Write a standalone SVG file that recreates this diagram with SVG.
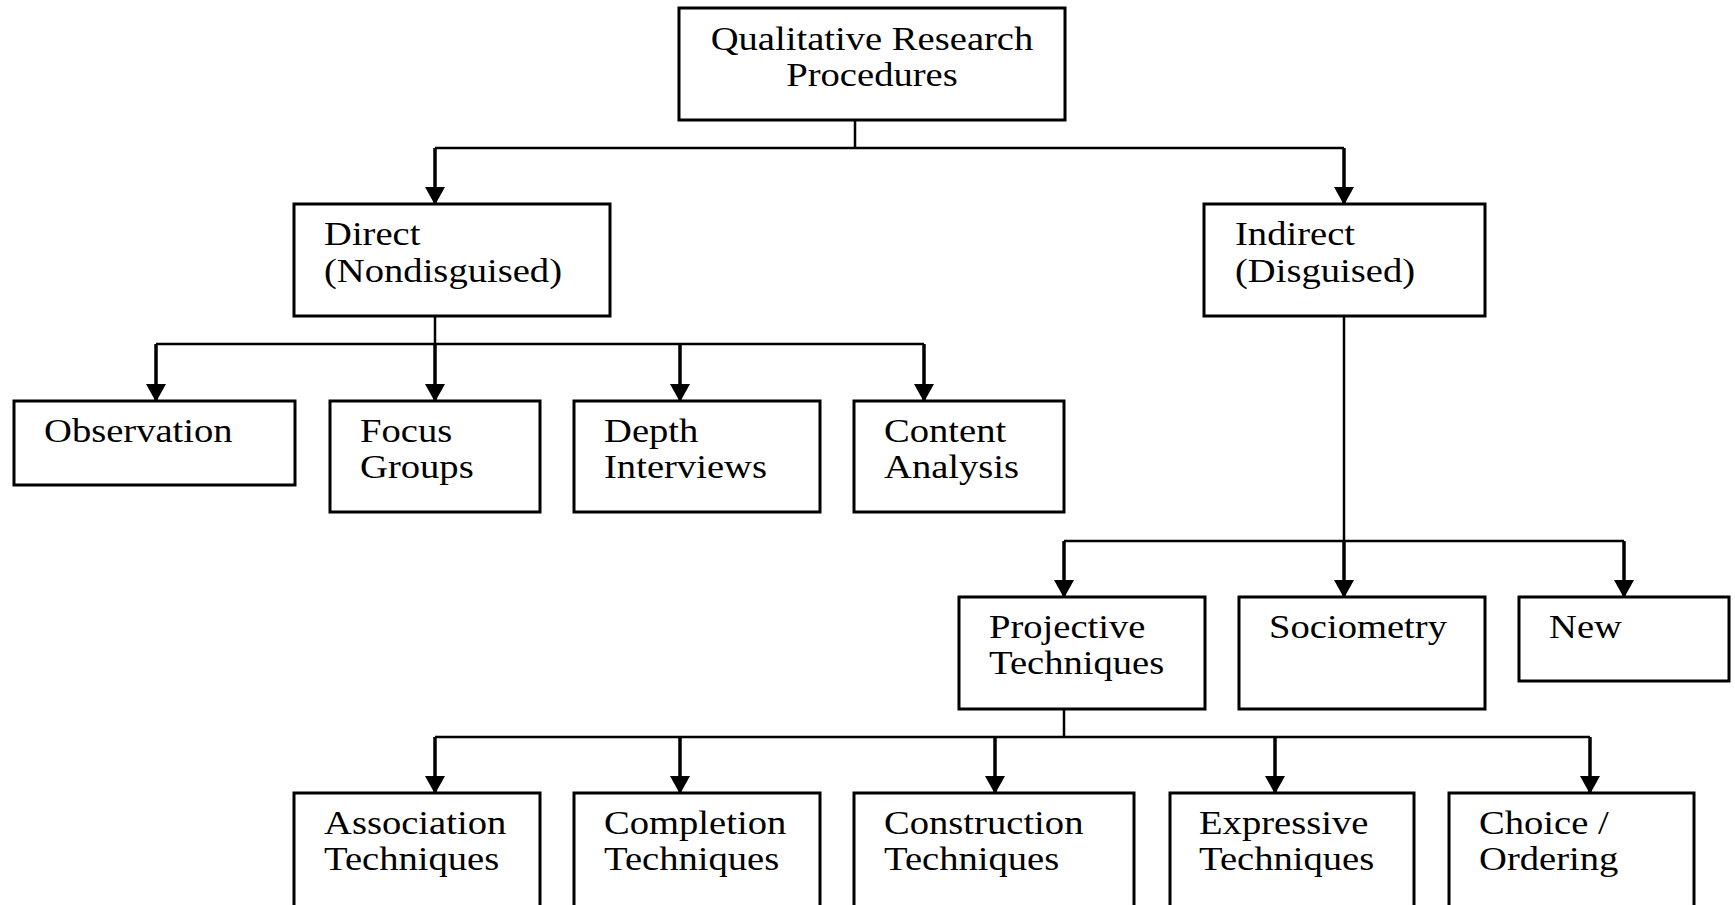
<svg xmlns="http://www.w3.org/2000/svg" width="1735" height="905" viewBox="0 0 1735 905">
  <style>
    .box { fill: #ffffff; stroke: #000000; stroke-width: 3; }
    .lbl { font-family: "Liberation Serif", serif; font-size: 33px; fill: #000000; }
    .mid { text-anchor: middle; }
    .bus { fill: none; stroke: #000000; stroke-width: 2.5; }
    .drop { fill: none; stroke: #000000; stroke-width: 3.5; marker-end: url(#head); }
  </style>
  <defs>
    <marker id="head" viewBox="0 0 18 20" refX="17" refY="10" markerWidth="18" markerHeight="20" markerUnits="userSpaceOnUse" orient="auto">
      <path d="M0,0 L18,10 L0,20 z" fill="#000000"/>
    </marker>
  </defs>
  <rect width="1735" height="905" fill="#ffffff"/>

  <!-- connectors -->
  <g id="connectors">
    <!-- root to level 1 -->
    <path class="bus" d="M855,120 V148 M435,148 H1344"/>
    <path class="drop" d="M435,148 V204"/>
    <path class="drop" d="M1344,148 V204"/>
    <!-- direct branch -->
    <path class="bus" d="M435,316 V344 M156,344 H924"/>
    <path class="drop" d="M156,344 V401"/>
    <path class="drop" d="M435,344 V401"/>
    <path class="drop" d="M680,344 V401"/>
    <path class="drop" d="M924,344 V401"/>
    <!-- indirect branch -->
    <path class="bus" d="M1344,316 V541 M1064,541 H1624"/>
    <path class="drop" d="M1064,541 V597"/>
    <path class="drop" d="M1344,541 V597"/>
    <path class="drop" d="M1624,541 V597"/>
    <!-- projective techniques branch -->
    <path class="bus" d="M1064,709 V737 M435,737 H1590"/>
    <path class="drop" d="M435,737 V793"/>
    <path class="drop" d="M680,737 V793"/>
    <path class="drop" d="M995,737 V793"/>
    <path class="drop" d="M1275,737 V793"/>
    <path class="drop" d="M1590,737 V793"/>
  </g>

  <!-- labels are set in a slightly widened serif (x scaled by 1.17) -->
  <g id="root">
    <rect class="box" x="679" y="8" width="386" height="112"/>
    <text class="lbl mid" transform="translate(872 50) scale(1.17 1)">Qualitative Research</text>
    <text class="lbl mid" transform="translate(872 86) scale(1.17 1)">Procedures</text>
  </g>

  <g id="direct">
    <rect class="box" x="294" y="204" width="316" height="112"/>
    <text class="lbl" transform="translate(324 245) scale(1.17 1)">Direct</text>
    <text class="lbl" transform="translate(324 282) scale(1.17 1)">(Nondisguised)</text>
  </g>

  <g id="indirect">
    <rect class="box" x="1204" y="204" width="281" height="112"/>
    <text class="lbl" transform="translate(1235 245) scale(1.17 1)">Indirect</text>
    <text class="lbl" transform="translate(1235 282) scale(1.17 1)">(Disguised)</text>
  </g>

  <g id="observation">
    <rect class="box" x="14" y="401" width="281" height="84"/>
    <text class="lbl" transform="translate(44 442) scale(1.17 1)">Observation</text>
  </g>

  <g id="focus-groups">
    <rect class="box" x="330" y="401" width="210" height="111"/>
    <text class="lbl" transform="translate(360 442) scale(1.17 1)">Focus</text>
    <text class="lbl" transform="translate(360 478) scale(1.17 1)">Groups</text>
  </g>

  <g id="depth-interviews">
    <rect class="box" x="574" y="401" width="246" height="111"/>
    <text class="lbl" transform="translate(604 442) scale(1.17 1)">Depth</text>
    <text class="lbl" transform="translate(604 478) scale(1.17 1)">Interviews</text>
  </g>

  <g id="content-analysis">
    <rect class="box" x="854" y="401" width="210" height="111"/>
    <text class="lbl" transform="translate(884 442) scale(1.17 1)">Content</text>
    <text class="lbl" transform="translate(884 478) scale(1.17 1)">Analysis</text>
  </g>

  <g id="projective">
    <rect class="box" x="959" y="597" width="246" height="112"/>
    <text class="lbl" transform="translate(989 638) scale(1.17 1)">Projective</text>
    <text class="lbl" transform="translate(989 674) scale(1.17 1)">Techniques</text>
  </g>

  <g id="sociometry">
    <rect class="box" x="1239" y="597" width="246" height="112"/>
    <text class="lbl" transform="translate(1269 638) scale(1.17 1)">Sociometry</text>
  </g>

  <g id="new">
    <rect class="box" x="1519" y="597" width="210" height="84"/>
    <text class="lbl" transform="translate(1549 638) scale(1.17 1)">New</text>
  </g>

  <g id="association">
    <rect class="box" x="294" y="793" width="246" height="130"/>
    <text class="lbl" transform="translate(324 834) scale(1.17 1)">Association</text>
    <text class="lbl" transform="translate(324 870) scale(1.17 1)">Techniques</text>
  </g>

  <g id="completion">
    <rect class="box" x="574" y="793" width="246" height="130"/>
    <text class="lbl" transform="translate(604 834) scale(1.17 1)">Completion</text>
    <text class="lbl" transform="translate(604 870) scale(1.17 1)">Techniques</text>
  </g>

  <g id="construction">
    <rect class="box" x="854" y="793" width="280" height="130"/>
    <text class="lbl" transform="translate(884 834) scale(1.17 1)">Construction</text>
    <text class="lbl" transform="translate(884 870) scale(1.17 1)">Techniques</text>
  </g>

  <g id="expressive">
    <rect class="box" x="1170" y="793" width="244" height="130"/>
    <text class="lbl" transform="translate(1199 834) scale(1.17 1)">Expressive</text>
    <text class="lbl" transform="translate(1199 870) scale(1.17 1)">Techniques</text>
  </g>

  <g id="choice-ordering">
    <rect class="box" x="1449" y="793" width="245" height="130"/>
    <text class="lbl" transform="translate(1479 834) scale(1.17 1)">Choice /</text>
    <text class="lbl" transform="translate(1479 870) scale(1.17 1)">Ordering</text>
  </g>
</svg>
